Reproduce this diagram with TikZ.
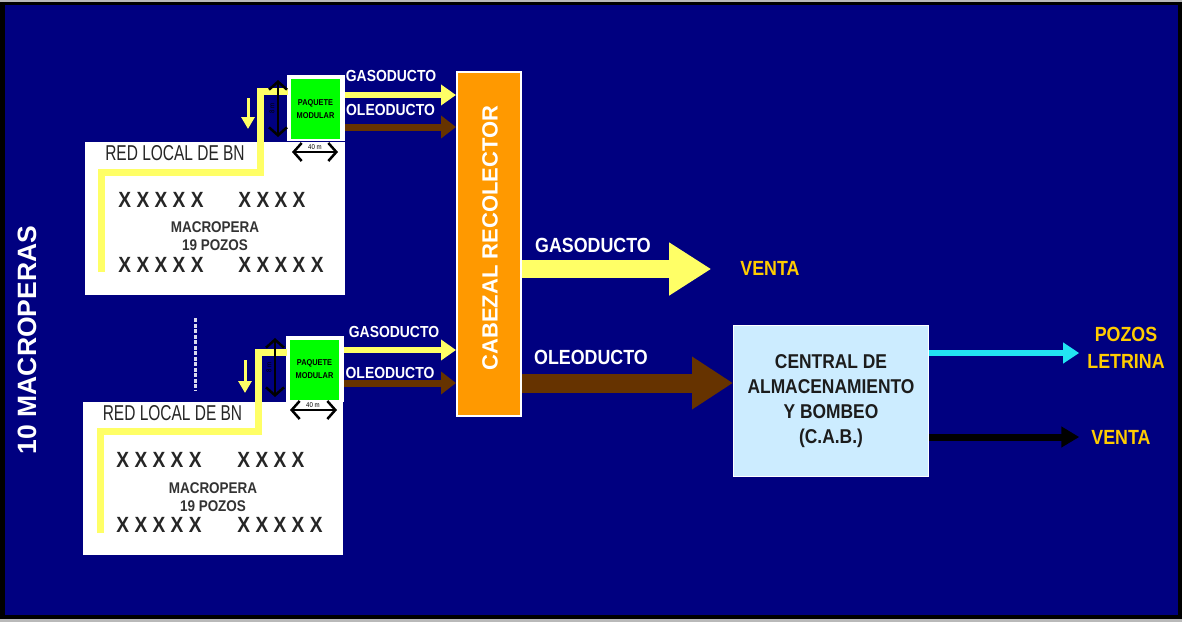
\documentclass[tikz,border=0pt]{standalone}
\usepackage{fontspec}
\setmainfont{Liberation Sans}[FakeStretch=0.87]
\newfontfamily\narrowfont{Liberation Sans}[FakeStretch=0.72]
\newfontfamily\uprightfont{Liberation Sans}
\usetikzlibrary{arrows.meta,positioning}
\definecolor{bgnavy}{HTML}{000080}
\definecolor{pipegas}{HTML}{FFFF66}
\definecolor{pipeoil}{HTML}{663300}
\definecolor{cabeorange}{HTML}{FF9900}
\definecolor{cabblue}{HTML}{CCECFF}
\definecolor{labgold}{HTML}{FFCC00}
\definecolor{modgreen}{HTML}{00FF00}
\definecolor{letcyan}{HTML}{22E4F2}
\definecolor{cabink}{HTML}{1C1C1C}

\begin{document}
\begin{tikzpicture}[x=1pt,y=-1pt,
    lbl/.style={inner sep=0pt,text=white,font=\fontsize{16}{17}\selectfont\bfseries},
    biglbl/.style={inner sep=0pt,text=white,font=\fontsize{20.5}{22}\selectfont\bfseries},
    goldlbl/.style={inner sep=0pt,text=labgold,align=center,font=\fontsize{20.5}{27}\selectfont\bfseries},
    wellrow/.style={inner sep=0pt,text=black!85,font=\fontsize{22}{24}\selectfont\bfseries},
    padtxt/.style={inner sep=0pt,align=center,text=black!80,font=\fontsize{15.5}{18.5}\selectfont\bfseries},
    netlbl/.style={inner sep=0pt,text=black!85,font=\narrowfont\fontsize{21.5}{23}\selectfont},
    padbox/.style={fill=white,inner sep=0pt,minimum width=260pt,minimum height=153pt},
    modback/.style={fill=white,inner sep=0pt,minimum width=58pt,minimum height=66pt},
    paquete/.style={fill=modgreen,inner sep=0pt,minimum width=49pt,minimum height=60pt,align=center,font=\fontsize{8.5}{13}\selectfont\bfseries},
    bnline/.style={pipegas,line width=7pt},
    bndrop/.style={pipegas,line width=3pt,-{Triangle[length=12pt,width=13pt]}},
    dimline/.style={black,line width=2.5pt,{Straight Barb[length=8pt,width=18pt]}-{Straight Barb[length=8pt,width=18pt]}},
    dimtxt/.style={inner sep=0pt,font=\fontsize{7}{8}\selectfont},
    gaspipe/.style={pipegas,line width=6pt,-{Triangle[length=15pt,width=20pt]}},
    oilpipe/.style={pipeoil,line width=7pt,-{Triangle[length=15pt,width=22pt]}},
    biggas/.style={pipegas,line width=18pt,-{Triangle[length=42pt,width=50pt]}},
    bigoil/.style={pipeoil,line width=19pt,-{Triangle[length=41pt,width=50pt]}},
    letpipe/.style={letcyan,line width=6pt,-{Triangle[length=16pt,width=20pt]}},
    salepipe/.style={black,line width=7pt,-{Triangle[length=18pt,width=20pt]}}]
  \useasboundingbox (0,0) rectangle (1182,622);
  % marco
  \fill[gray!55] (0,0) rectangle (1182,622);
  \fill[black] (0,2) rectangle (1182,619);
  \fill[bgnavy] (5,5) rectangle (1178,615);

  \node[inner sep=0pt,rotate=90,text=white,font=\uprightfont\fontsize{26.5}{28}\selectfont\bfseries] (tenpads) at (27,340) {10 MACROPERAS};

  % macropera superior
  \node[padbox] (macA) at (215,218.5) {};
  \node[modback] (modA) at (316,107.5) {};
  \node[paquete] (paqA) at (315.5,109) {PAQUETE\\MODULAR};
  \node[netlbl] (netA) at (175,153) {RED LOCAL DE BN};
  \draw[bnline] (101,272) -- (101,172) -- (260,172) -- (260,91) -- (288,91);
  \draw[bndrop] (248,98) -- (248,129);
  \draw[dimline] (278,80) -- (278,137);
  \node[dimtxt,rotate=90] at (272,108) {8 m};
  \draw[dimline] (292,152) -- (338,152);
  \node[dimtxt] at (315,147) {40 m};
  \node[wellrow] (wA1) at (161,200) {X X X X X};
  \node[wellrow] (wA2) at (272,200) {X X X X};
  \node[padtxt] (padA) at (215,236) {MACROPERA\\19 POZOS};
  \node[wellrow] (wA3) at (161,265) {X X X X X};
  \node[wellrow] (wA4) at (281,265) {X X X X X};

  \draw[white!85!bgnavy,line width=3pt,dash pattern=on 4pt off 1.5pt] (195,318) -- (195,390);

  % macropera inferior
  \node[padbox] (macB) at (213,478.5) {};
  \node[modback] (modB) at (315,368.5) {};
  \node[paquete] (paqB) at (314.5,369.5) {PAQUETE\\MODULAR};
  \node[netlbl] (netB) at (172.5,413) {RED LOCAL DE BN};
  \draw[bnline] (100,533) -- (100,431) -- (258,431) -- (258,352) -- (287,352);
  \draw[bndrop] (245,360) -- (245,393);
  \draw[dimline] (275,338) -- (275,397);
  \node[dimtxt,rotate=90] at (269,367) {8 m};
  \draw[dimline] (290,410) -- (337,410);
  \node[dimtxt] at (313,405) {40 m};
  \node[wellrow] (wB1) at (159,460) {X X X X X};
  \node[wellrow] (wB2) at (271,460) {X X X X};
  \node[padtxt] (padB) at (213,497) {MACROPERA\\19 POZOS};
  \node[wellrow] (wB3) at (159,525) {X X X X X};
  \node[wellrow] (wB4) at (280,525) {X X X X X};

  % cabezal y C.A.B.
  \node[fill=cabeorange,draw=white,line width=2pt,minimum width=64pt,minimum height=344pt] (cabezal) at (489,244) {};
  \node[inner sep=0pt,rotate=90,text=white,font=\uprightfont\fontsize{22}{24}\selectfont\bfseries] (cabtxt) at (490,238) {CABEZAL RECOLECTOR};
  \node[fill=cabblue,draw=white,line width=1pt,minimum width=195pt,minimum height=151pt,align=center,text=cabink,font=\fontsize{20}{25}\selectfont\bfseries] (cab) at (831,401) {CENTRAL DE\\ALMACENAMIENTO\\Y BOMBEO\\(C.A.B.)};

  % ductos a cabezal
  \coordinate (gasA) at ([yshift=12.5pt]modA.east);
  \coordinate (oilA) at ([yshift=-19.5pt]modA.east);
  \coordinate (gasB) at ([yshift=18.5pt]modB.east);
  \coordinate (oilB) at ([yshift=-14.5pt]modB.east);
  \draw[gaspipe] (gasA) -- (gasA -| cabezal.west);
  \draw[oilpipe] (oilA) -- (oilA -| cabezal.west);
  \draw[gaspipe] (gasB) -- (gasB -| cabezal.west);
  \draw[oilpipe] (oilB) -- (oilB -| cabezal.west);
  \node[lbl] (gasAl) at (391,76) {GASODUCTO};
  \node[lbl] (oilAl) at (390.5,110) {OLEODUCTO};
  \node[lbl] (gasBl) at (394,332) {GASODUCTO};
  \node[lbl] (oilBl) at (390,373) {OLEODUCTO};

  % salidas
  \node[goldlbl] (venta) at (770,268) {VENTA};
  \node[goldlbl] (pozos) at (1126,348) {POZOS\\LETRINA};
  \node[goldlbl] (ventaB) at (1121,437) {VENTA};
  \coordinate (gasOut) at ([yshift=-25pt]cabezal.east);
  \coordinate (oilOut) at ([yshift=-139pt]cabezal.east);
  \draw[biggas,shorten >=29pt] (gasOut) -- (gasOut -| venta.west);
  \draw[bigoil] (oilOut) -- (oilOut -| cab.west);
  \node[biglbl] (gasMid) at (593,245) {GASODUCTO};
  \node[biglbl] (oilMid) at (591,357) {OLEODUCTO};
  \coordinate (letOut) at ([yshift=48pt]cab.east);
  \coordinate (saleOut) at ([yshift=-36pt]cab.east);
  \draw[letpipe,shorten >=8pt] (letOut) -- (letOut -| pozos.west);
  \draw[salepipe,shorten >=12pt] (saleOut) -- (saleOut -| ventaB.west);
\end{tikzpicture}
\end{document}
